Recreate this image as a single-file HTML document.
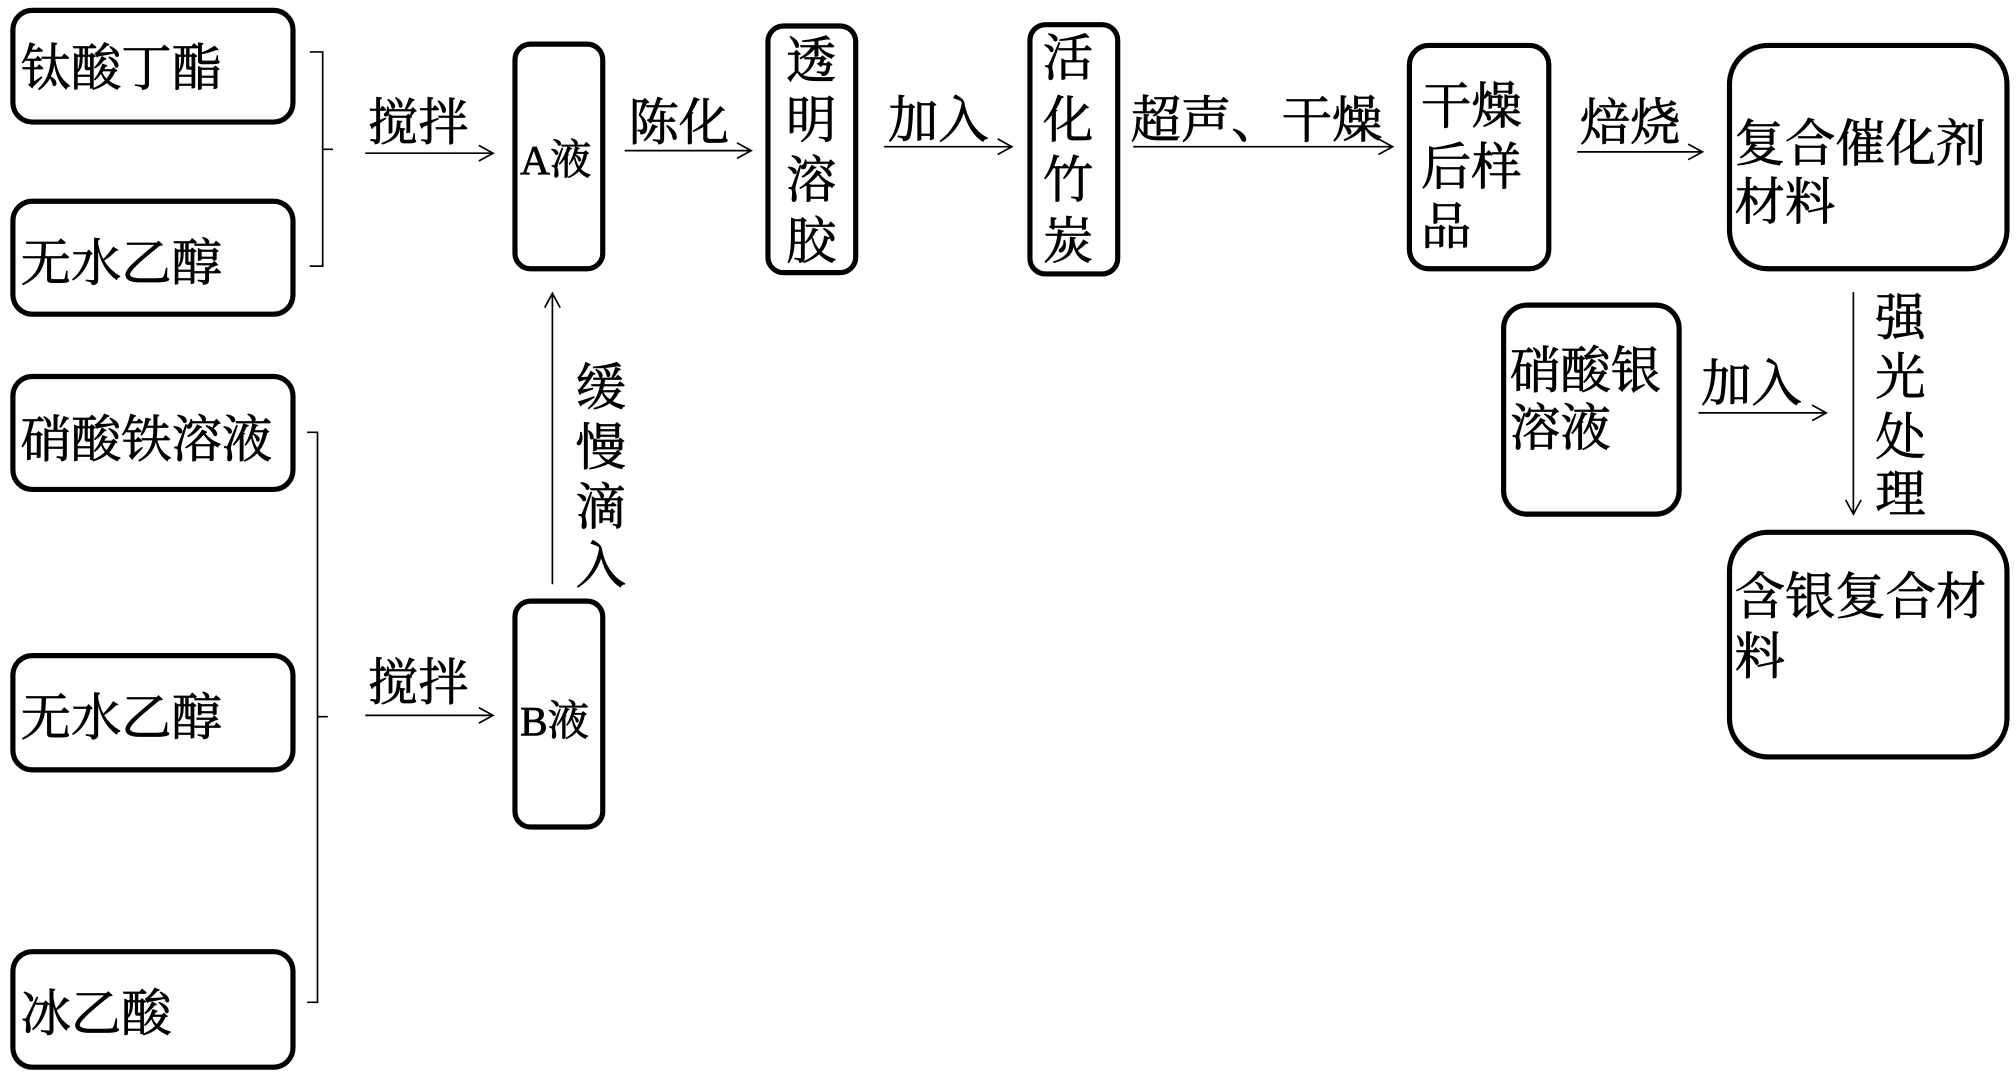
<!DOCTYPE html>
<html><head><meta charset="utf-8"><style>
html,body{margin:0;padding:0;background:#fff;}
svg{display:block;}
text{font-family:"Liberation Serif","Noto Serif CJK SC","Noto Sans CJK SC",serif;font-size:39px;fill:#000;stroke:#000;stroke-width:0.6;}
.b{fill:none;stroke:#000;stroke-width:4;}
.l{fill:none;stroke:#000;stroke-width:1.3;}
</style></head><body>
<svg width="2016" height="1075" viewBox="0 0 1562 828" preserveAspectRatio="none" xmlns="http://www.w3.org/2000/svg">
<defs><marker id="a" markerWidth="14" markerHeight="14" refX="12" refY="7" orient="auto" markerUnits="userSpaceOnUse"><path d="M1,1 L12,7 L1,13" fill="none" stroke="#000" stroke-width="1.3"/></marker></defs>
<rect class="b" x="10" y="8" width="217" height="86" rx="15"/>
<text x="16" y="66">钛酸丁酯</text>
<rect class="b" x="10" y="155" width="217" height="87" rx="15"/>
<text x="16" y="216">无水乙醇</text>
<rect class="b" x="10" y="290" width="217" height="87" rx="15"/>
<text x="16" y="352">硝酸铁溶液</text>
<rect class="b" x="10" y="505" width="217" height="88" rx="15"/>
<text x="16" y="566">无水乙醇</text>
<rect class="b" x="10" y="733" width="217" height="89" rx="15"/>
<text x="16" y="794">冰乙酸</text>
<path class="l" d="M240,40 H250 V205 H240 M250,115 H258"/>
<path class="l" d="M238,333 H246 V772 H238 M246,552 H254"/>
<line class="l" x1="283" y1="118" x2="382" y2="118" marker-end="url(#a)"/>
<text x="285" y="108">搅拌</text>
<line class="l" x1="283" y1="551" x2="382" y2="551" marker-end="url(#a)"/>
<text x="285" y="539">搅拌</text>
<rect class="b" x="399" y="34" width="68" height="173" rx="12"/>
<text x="403" y="134" style="font-size:32px">A液</text>
<rect class="b" x="399" y="463" width="68" height="174" rx="12"/>
<text x="403" y="566" style="font-size:32px">B液</text>
<line class="l" x1="428" y1="450" x2="428" y2="226" marker-end="url(#a)"/>
<text x="446" y="312">缓</text><text x="446" y="358">慢</text><text x="446" y="404">滴</text><text x="446" y="449">入</text>
<line class="l" x1="484" y1="116" x2="582" y2="116" marker-end="url(#a)"/>
<text x="487" y="108">陈化</text>
<rect class="b" x="595" y="20" width="68" height="190" rx="12"/>
<text x="609" y="60">透</text><text x="609" y="106">明</text><text x="609" y="152">溶</text><text x="609" y="199">胶</text>
<line class="l" x1="685" y1="113" x2="784" y2="113" marker-end="url(#a)"/>
<text x="688" y="106">加入</text>
<rect class="b" x="798" y="19" width="68" height="192" rx="12"/>
<text x="808" y="58">活</text><text x="808" y="106">化</text><text x="808" y="152">竹</text><text x="808" y="199">炭</text>
<line class="l" x1="878" y1="113" x2="1079" y2="113" marker-end="url(#a)"/>
<text x="876" y="106">超声、干燥</text>
<rect class="b" x="1092" y="35" width="108" height="172" rx="15"/>
<text x="1101" y="95">干燥</text><text x="1101" y="142">后样</text><text x="1101" y="188">品</text>
<line class="l" x1="1222" y1="117" x2="1319" y2="117" marker-end="url(#a)"/>
<text x="1224" y="108">焙烧</text>
<rect class="b" x="1340" y="35" width="215" height="172" rx="30"/>
<text x="1344" y="124">复合催化剂</text><text x="1344" y="169">材料</text>
<line class="l" x1="1436" y1="225" x2="1436" y2="396" marker-end="url(#a)"/>
<text x="1453" y="258">强</text><text x="1453" y="304">光</text><text x="1453" y="350">处</text><text x="1453" y="394">理</text>
<rect class="b" x="1165" y="235" width="136" height="161" rx="18"/>
<text x="1170" y="299">硝酸银</text><text x="1170" y="343">溶液</text>
<line class="l" x1="1316" y1="318" x2="1415" y2="318" marker-end="url(#a)"/>
<text x="1318" y="309">加入</text>
<rect class="b" x="1340" y="410" width="215" height="173" rx="30"/>
<text x="1344" y="473">含银复合材</text><text x="1344" y="519">料</text>
</svg>
</body></html>
